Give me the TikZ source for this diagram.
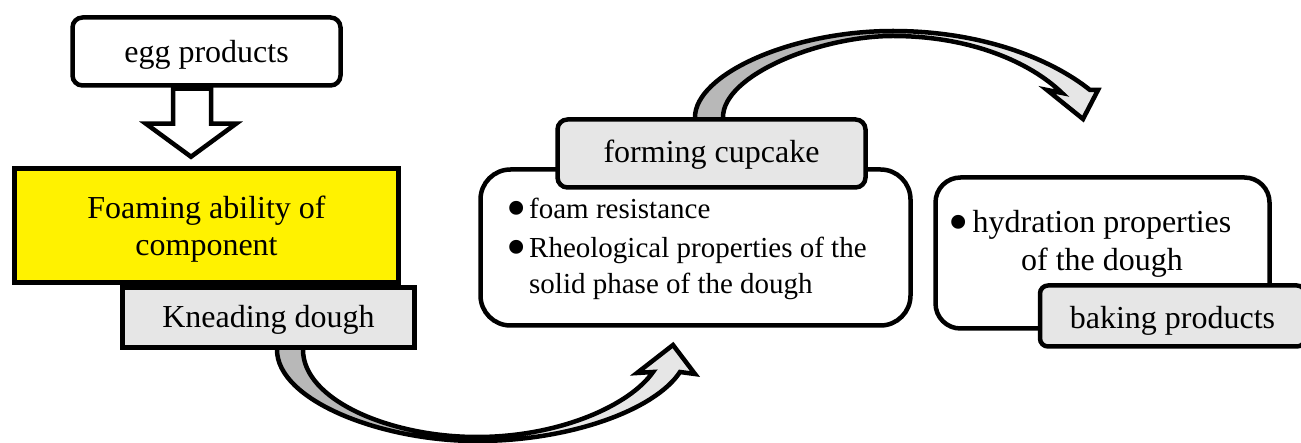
\documentclass[tikz,border=0pt]{standalone}
\usepackage{fontspec}
\setmainfont{Liberation Serif}
\usetikzlibrary{calc}
\pgfdeclarelayer{bg}
\pgfsetlayers{bg,main}
\definecolor{boxgrey}{HTML}{E6E6E6}
\definecolor{backgrey}{HTML}{B8B8B8}
\newcommand\mybul[1]{\llap{\raisebox{-9pt}{\fontsize{58}{58}\selectfont •}\hspace{#1}}}
\begin{document}
\begin{tikzpicture}[x=1pt,y=-1pt,
  box/.style={draw, line width=4.5pt, inner sep=0pt, font=\fontsize{32}{37}\selectfont},
  txt/.style={inner sep=0pt, font=\fontsize{29}{36}\selectfont},
  outline/.style={draw, line width=4.5pt, line join=miter}]
\useasboundingbox (0,0) rectangle (1301,443);

% boxes
\node[box, fill=white, rounded corners=10pt, minimum width=268pt, minimum height=68pt, text height=25pt, text depth=2pt] (egg) at (206.5,51.5) {egg products};
\node[box, fill=yellow, minimum width=384pt, minimum height=114pt, align=center] (foam) at (206.5,225.5) {\rule{0pt}{29pt}Foaming ability of\\component};
\node[box, fill=boxgrey, minimum width=292pt, minimum height=60pt, text height=24pt, text depth=3pt] (knead) at (268.5,317.5) {Kneading dough};
\node[box, fill=white, rounded corners=30pt, minimum width=430pt, minimum height=156pt] (mid) at (695.5,247.5) {};
\node[box, fill=boxgrey, rounded corners=10pt, minimum width=308pt, minimum height=68pt, text height=23pt, text depth=4pt] (form) at (711.5,153.5) {forming cupcake};
\node[box, fill=white, rounded corners=25pt, minimum width=334pt, minimum height=151pt] (right) at (1102.5,253) {};
\node[box, fill=boxgrey, rounded corners=8pt, minimum width=265pt, minimum height=61pt, text height=27pt, text depth=2pt] (bake) at (1172.5,316) {baking products};

% texts
\node[txt, anchor=base west] (midlist) at (529,218.5) {\begin{tabular}[t]{@{}l@{}}\mybul{2.4pt}foam resistance\\[3.5pt]
  \mybul{2.4pt}Rheological properties of the\\solid phase of the dough\end{tabular}};
\node[txt, anchor=base, font=\fontsize{32}{38}\selectfont] (rightlist) at (1102,233) {\begin{tabular}[t]{@{}c@{}}\mybul{4pt}hydration properties\\of the dough\end{tabular}};

% block arrow egg -> foam
\draw[outline, fill=white] ($(egg.south)+(-33.5,1)$) -- ($(egg.south)+(-33.5,36)$) -- ($(egg.south)+(-60.5,36)$)
  -- ($(egg.south)+(-15.5,69)$) -- ($(egg.south)+(29.5,36)$) -- ($(egg.south)+(4.5,36)$) -- ($(egg.south)+(4.5,1)$) -- cycle;

% curved arrows
\coordinate (k1) at ($(knead.south)+(8.5,0)$);
\coordinate (k2) at ($(knead.south)+(34.5,0)$);
\coordinate (tipA) at (673,345);
\coordinate (f1) at ($(form.north)+(-16.5,0)$);
\coordinate (f2) at ($(form.north)+(11.5,0)$);
\coordinate (tipB) at (1083,119);

\begin{pgfonlayer}{bg}
\fill[backgrey] (k1) .. controls (277,400) and (380,441) .. (477,441) -- (477,437) .. controls (390,437) and (303,400) .. (k2) -- cycle;
\fill[boxgrey] (477,441) .. controls (570,441) and (655,410) .. (680,372) -- (695,374) -- (tipA) -- (637,373) -- (653,372) .. controls (630,405) and (560,437) .. (477,437) -- cycle;
\draw[outline] (k1) .. controls (277,400) and (380,441) .. (477,441) .. controls (570,441) and (655,410) .. (680,372) -- (695,374) -- (tipA) -- (637,373) -- (653,372) .. controls (630,405) and (560,437) .. (477,437) .. controls (390,437) and (303,400) .. (k2);

\fill[backgrey] (f1) .. controls (695,75) and (790,31) .. (893,31) -- (893,36) .. controls (820,36) and (723,75) .. (f2) -- cycle;
\fill[boxgrey] (893,31) .. controls (980,31) and (1050,58) .. (1090,90) -- (1098,90) -- (tipB) -- (1047,90) -- (1062,93) .. controls (1030,62) and (970,36) .. (893,36) -- cycle;
\draw[outline] (f1) .. controls (695,75) and (790,31) .. (893,31) .. controls (980,31) and (1050,58) .. (1090,90) -- (1098,90) -- (tipB) -- (1047,90) -- (1062,93) .. controls (1030,62) and (970,36) .. (893,36) .. controls (820,36) and (723,75) .. (f2);
\end{pgfonlayer}
\end{tikzpicture}
\end{document}
